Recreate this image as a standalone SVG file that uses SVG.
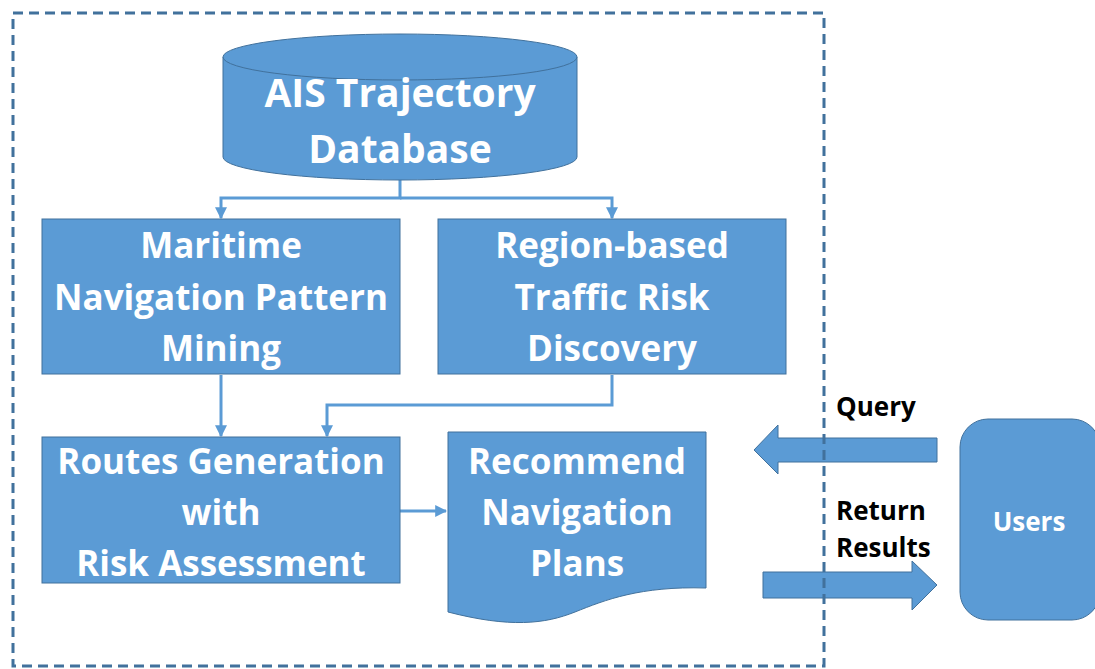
<svg xmlns="http://www.w3.org/2000/svg" width="1095" height="669" viewBox="0 0 1095 669">
  <defs>
    <marker id="tri" viewBox="0 0 10 10" refX="9" refY="5" markerWidth="4" markerHeight="4" orient="auto" markerUnits="strokeWidth">
      <path d="M0,0 L10,5 L0,10 Z" fill="#5B9BD5"/>
    </marker>
    <style>
      .shape { fill: #5B9BD5; stroke: #41719C; stroke-width: 1; }
      .big { fill: #FFFFFF; font-family: "Open Sans", "Liberation Sans", sans-serif; font-weight: 700; font-size: 35px; text-anchor: middle; }
      .db { font-size: 39px; }
      .lbl { fill: #000000; font-family: "Open Sans", "Liberation Sans", sans-serif; font-weight: 700; font-size: 26px; }
      .wire { fill: none; stroke: #5B9BD5; stroke-width: 3; }
      .frame { fill: none; stroke: #41719C; stroke-width: 3; stroke-dasharray: 10 6; }
    </style>
  </defs>

  <rect width="1095" height="669" fill="#FFFFFF"/>

  <!-- connectors -->
  <g id="connectors">
    <path class="wire" d="M400,180 V198 H221 V218" marker-end="url(#tri)"/>
    <path class="wire" d="M400,198 H612 V218" marker-end="url(#tri)"/>
    <path class="wire" d="M221,375 V436" marker-end="url(#tri)"/>
    <path class="wire" d="M612,375 V405 H327 V436" marker-end="url(#tri)"/>
    <path class="wire" d="M400,511 H446" marker-end="url(#tri)"/>
    <path id="query-arrow" class="shape" d="M937,438 H778 V425 L754,450 L778,474 V462 H937 Z"/>
    <path id="return-arrow" class="shape" d="M763,572 H912 V561 L937,585 L912,610 V598 H763 Z"/>
  </g>

  <!-- database cylinder -->
  <g id="ais-db">
    <path class="shape" d="M223,57 V157 A177,23 0 0 0 577,157 V57"/>
    <ellipse class="shape" cx="400" cy="57" rx="177" ry="23"/>
    <text class="big db" x="400" y="107">AIS Trajectory</text>
    <text class="big db" x="400" y="163">Database</text>
  </g>

  <g id="pattern-mining">
    <rect class="shape" x="42" y="219" width="358" height="155"/>
    <text class="big" x="221" y="258">Maritime</text>
    <text class="big" x="221" y="310">Navigation Pattern</text>
    <text class="big" x="221" y="361">Mining</text>
  </g>

  <g id="risk-discovery">
    <rect class="shape" x="438" y="219" width="348" height="155"/>
    <text class="big" x="612" y="258">Region-based</text>
    <text class="big" x="612" y="310">Traffic Risk</text>
    <text class="big" x="612" y="361">Discovery</text>
  </g>

  <g id="routes-generation">
    <rect class="shape" x="42" y="437" width="358" height="146"/>
    <text class="big" x="221" y="474">Routes Generation</text>
    <text class="big" x="221" y="525">with</text>
    <text class="big" x="221" y="576">Risk Assessment</text>
  </g>

  <g id="navigation-plans">
    <path class="shape" d="M448,432 H706 V588 C640,586 605,600 575,612 C545,624 510,628 448,612 Z"/>
    <text class="big" x="577" y="474">Recommend</text>
    <text class="big" x="577" y="525">Navigation</text>
    <text class="big" x="577" y="576">Plans</text>
  </g>

  <g id="users">
    <rect class="shape" x="960" y="419" width="140" height="201" rx="28" ry="28"/>
    <text class="big" x="1029" y="531" style="font-size:26px">Users</text>
  </g>

  <g id="labels">
    <text class="lbl" x="836" y="416">Query</text>
    <text class="lbl" x="836" y="520">Return</text>
    <text class="lbl" x="836" y="557">Results</text>
  </g>

  <!-- system boundary -->
  <rect class="frame" x="13" y="13" width="811" height="653"/>
</svg>
